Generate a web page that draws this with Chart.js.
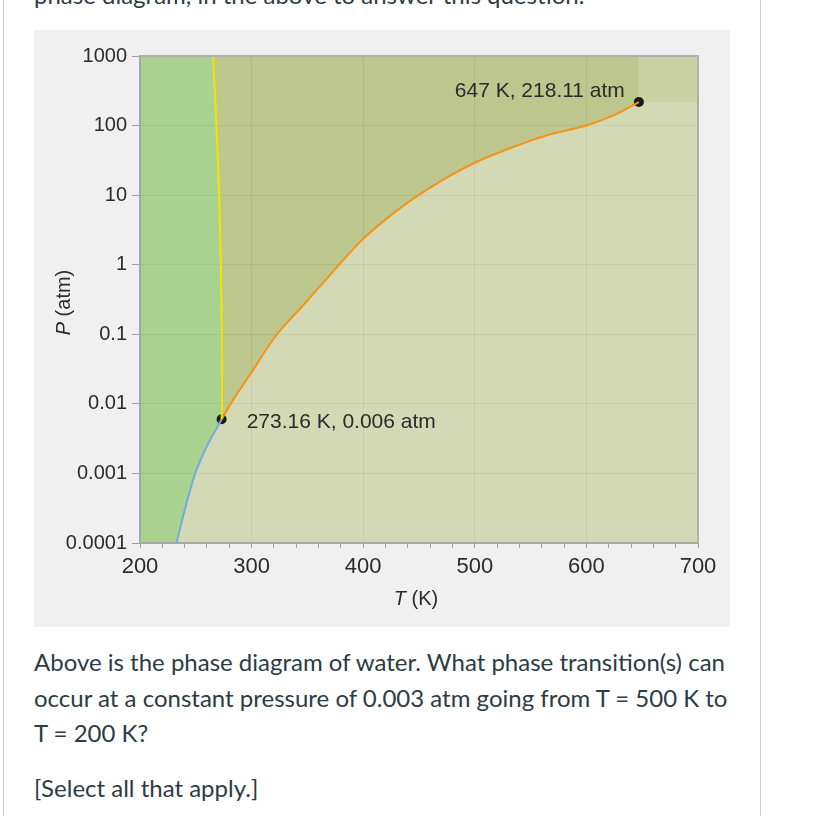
<!DOCTYPE html>
<html><head><meta charset="utf-8">
<script src="https://cdn.jsdelivr.net/npm/chart.js@4"></script>
<style>
html,body{margin:0;padding:0;background:#fff;width:835px;height:816px;overflow:hidden;position:relative;font-family:Lato,"Noto Sans",sans-serif;}
.vl{position:absolute;top:0;height:816px;width:1px;background:#c7cdd1;}
#box{position:absolute;left:34px;top:30px;width:696px;height:597px;background:#f0f0f0;}
#box canvas{display:block;}
.txt{position:absolute;left:34px;color:#2d3b45;font-size:24px;line-height:35.5px;white-space:nowrap;}
</style></head><body>
<div class="vl" style="left:3px"></div>
<div class="vl" style="left:760px"></div>
<div class="txt" style="top:-23px">phase diagram, in the above to answer this question.</div>
<div id="box"><canvas id="c" width="696" height="597"></canvas></div>
<div class="txt" style="top:644px">Above is the phase diagram of water. What phase transition(s) can<br>occur at a constant pressure of 0.003 atm going from T = 500 K to<br>T = 200 K?</div>
<div class="txt" style="top:770px">[Select all that apply.]</div>
<script>
// ---- data ----
const tempRange = [200, 700];
const pressureRange = [0.0001, 1000];
const xTickLabels = ['200', '300', '400', '500', '600', '700'];
const yTickValues = [0.0001, 0.001, 0.01, 0.1, 1, 10, 100, 1000];
const yTickLabels = ['0.0001', '0.001', '0.01', '0.1', '1', '10', '100', '1000'];
const xAxisTitle = ['T', ' (K)'];
const yAxisTitle = ['P', ' (atm)'];

// solid-liquid boundary (melting)
const meltingT = [273.16, 273.5, 273.3, 272.4, 270.9, 268.5, 265.5];
const meltingP = [0.006, 0.01, 0.1, 1, 10, 100, 1000];
// liquid-gas boundary (vaporization)
const vaporT = [273.16, 285, 297.2, 320.9, 344.8, 368.6, 398.6, 421, 444.9, 474.8, 504.7, 534.6, 564.5, 600.4, 624.3, 647];
const vaporP = [0.006, 0.0125, 0.0243, 0.0914, 0.247, 0.665, 2.24, 4.6, 8.9, 17.9, 31.7, 49.2, 72.5, 100.9, 140, 218.11];
// solid-gas boundary (sublimation)
const sublimT = [273.16, 259.6, 249.5, 239.2, 232.7];
const sublimP = [0.006, 0.0024, 0.001, 0.000264, 0.0001];
// triple & critical points
const specialT = [273.16, 647];
const specialP = [0.006, 218.11];
const specialLabels = ['273.16 K, 0.006 atm', '647 K, 218.11 atm'];

// ---- build point lists ----
const pts = (T, P) => T.map((t, i) => ({x: t, y: P[i]}));
const melting = pts(meltingT, meltingP);
const vapor = pts(vaporT, vaporP);
const sublim = pts(sublimT, sublimP);
const [tMin, tMax] = tempRange;
const [pMin, pMax] = pressureRange;
const crit = {x: specialT[1], y: specialP[1]};

const solidPoly = [{x: tMin, y: pMin}, {x: tMin, y: pMax}]
  .concat(melting.slice().reverse(), sublim.slice(1));
const liquidPoly = melting.slice().reverse().concat(vapor.slice(1), [{x: crit.x, y: pMax}]);
const gasPoly = sublim.slice().reverse().concat(vapor.slice(1), [{x: tMax, y: crit.y}, {x: tMax, y: pMin}]);
const superPoly = [crit, {x: tMax, y: crit.y}, {x: tMax, y: pMax}, {x: crit.x, y: pMax}];

const FONT = '"Liberation Sans", Arial, sans-serif';
const TXT = '#2b2b2b';

function region(data, color) {
  return {data, fill: 'shape', backgroundColor: color, borderWidth: 0, borderColor: 'rgba(0,0,0,0)',
          pointRadius: 0, tension: 0};
}
function curve(data, color, mono) {
  const d = {data, fill: false, borderColor: color, borderWidth: 2, pointRadius: 0, tension: mono ? 0.4 : 0.2};
  if (mono) d.cubicInterpolationMode = 'monotone';
  return d;
}

function drawMixed(ctx, parts, cx, cy) {
  const fonts = parts.map((p, i) => (i === 0 ? 'italic ' : '') + '20px ' + FONT);
  let total = 0;
  const widths = parts.map((p, i) => { ctx.font = fonts[i]; const w = ctx.measureText(p).width; total += w; return w; });
  let x = cx - total / 2;
  ctx.textAlign = 'left'; ctx.textBaseline = 'middle';
  parts.forEach((p, i) => { ctx.font = fonts[i]; ctx.fillText(p, x, cy); x += widths[i]; });
}

const chrome = {
  id: 'chrome',
  afterDraw(chart) {
    const {ctx, chartArea: a, scales} = chart;
    ctx.save();
    ctx.strokeStyle = '#b0b0b0'; ctx.lineWidth = 2;
    ctx.beginPath(); ctx.moveTo(a.left, a.top); ctx.lineTo(a.right, a.top); ctx.lineTo(a.right, a.bottom); ctx.stroke();
    ctx.fillStyle = TXT;
    ctx.font = '21px ' + FONT;
    ctx.textBaseline = 'middle';
    specialT.forEach((t, i) => {
      const px = scales.x.getPixelForValue(t), py = scales.y.getPixelForValue(specialP[i]);
      if (i === 0) { ctx.textAlign = 'left'; ctx.fillText(specialLabels[i], px + 25, py + 3); }
      else { ctx.textAlign = 'right'; ctx.fillText(specialLabels[i], px - 14, py - 11); }
    });
    drawMixed(ctx, xAxisTitle, (a.left + a.right) / 2 - 3, 569);
    ctx.save();
    ctx.translate(30, (a.top + a.bottom) / 2 + 3);
    ctx.rotate(-Math.PI / 2);
    drawMixed(ctx, yAxisTitle, 0, 0);
    ctx.restore();
    ctx.restore();
  }
};

new Chart(document.getElementById('c'), {
  type: 'line',
  data: {
    datasets: [
      curve(melting, '#f4e400', false),
      curve(vapor, '#f39419', true),
      curve(sublim.slice().reverse(), '#72abe0', true),
      {data: pts(specialT, specialP), showLine: false, pointRadius: 5, pointBackgroundColor: '#1a1a1a',
       pointBorderWidth: 0, borderColor: 'rgba(0,0,0,0)', fill: false},
      region(solidPoly, '#a9d18f'),
      region(liquidPoly, '#bdc68c'),
      region(superPoly, '#cad1a3'),
      region(gasPoly, '#d4d9b5')
    ]
  },
  options: {
    responsive: false,
    animation: false,
    events: [],
    layout: {padding: {top: 26, right: 32, left: 0, bottom: 0}},
    plugins: {legend: {display: false}, tooltip: {enabled: false}, filler: {drawTime: 'beforeDraw', propagate: false}},
    scales: {
      x: {
        type: 'linear', min: tMin, max: tMax,
        afterFit(s) { s.height = 84; },
        border: {display: true, color: '#a8a8a8', width: 2},
        grid: {
          color: c => (c.tick && c.tick.value % 100 === 0) ? 'rgba(0,0,0,0.06)' : 'rgba(0,0,0,0)',
          tickColor: '#a0a0a0', tickLength: 5, lineWidth: 1
        },
        ticks: {
          stepSize: 20, autoSkip: false, maxRotation: 0, padding: 6,
          color: TXT, font: {family: FONT, size: 22},
          callback: v => { const i = xTickLabels.indexOf(String(v)); return i >= 0 ? xTickLabels[i] : ''; }
        }
      },
      y: {
        type: 'logarithmic', min: pMin, max: pMax,
        afterFit(s) { s.width = 106; },
        afterBuildTicks(s) { s.ticks = yTickValues.map(v => ({value: v})); },
        border: {display: true, color: '#a8a8a8', width: 2},
        grid: {color: 'rgba(0,0,0,0.06)', tickColor: '#a0a0a0', tickLength: 8, lineWidth: 1},
        ticks: {
          padding: 5, color: TXT, font: {family: FONT, size: 20},
          callback: (v, i) => yTickLabels[i]
        }
      }
    }
  },
  plugins: [chrome]
});
</script>
</body></html>
